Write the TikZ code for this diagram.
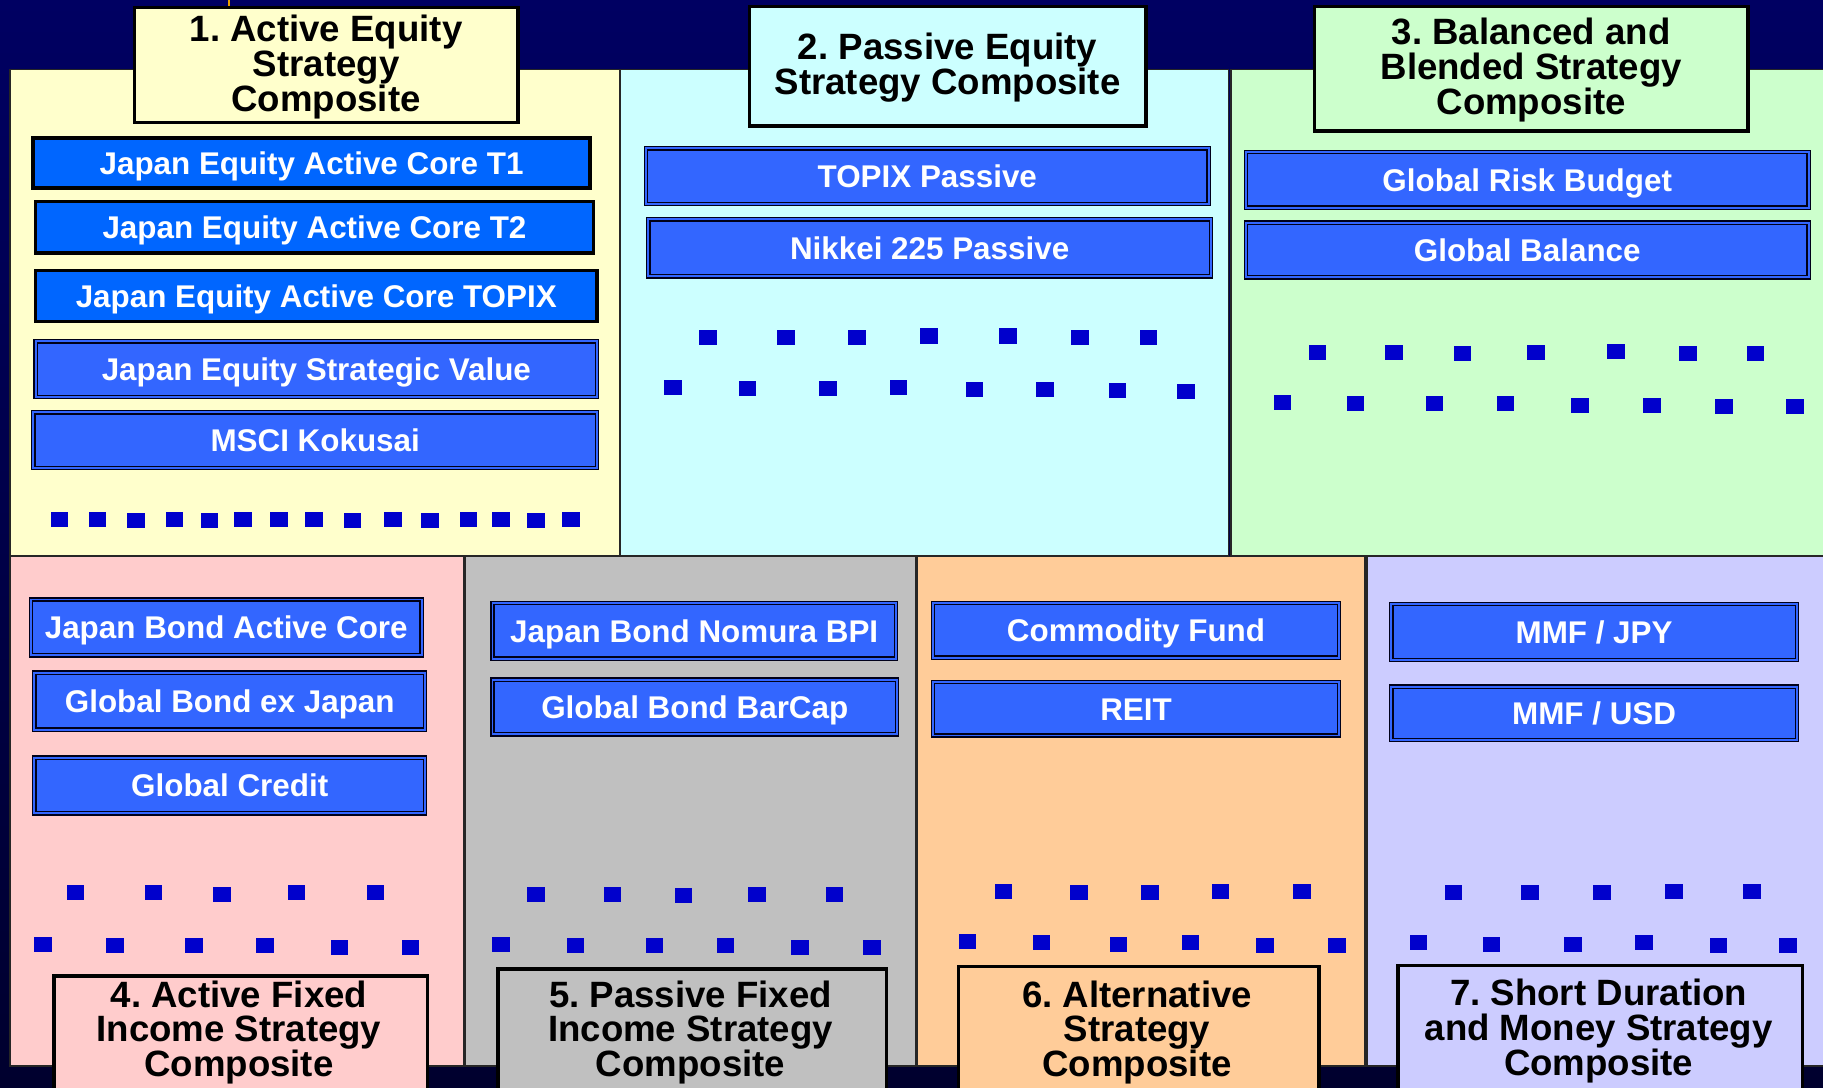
\documentclass[tikz,border=0pt]{standalone}
\usepackage{fontspec}
\setmainfont{Liberation Sans}
\begin{document}
\frenchspacing
\begin{tikzpicture}[x=1pt,y=-1pt,
  panel/.style={draw=black!85, line width=1.5pt, minimum width=#1, anchor=north west, inner sep=0pt},
  titlebox/.style={draw=black, line width=3pt, anchor=north west, inner sep=0pt},
  titletext/.style={align=center, text=black, font=\fontsize{31.5}{30}\selectfont\bfseries\frenchspacing},
  fundA/.style={draw=black, line width=3pt, fill=fundbright, anchor=north west, inner sep=0pt,
    text=white, text height=19.5pt, text depth=0pt, font=\fontsize{27}{30}\selectfont\bfseries},
  fundB/.style={draw=black!90!blue, line width=1.2pt, double=fundblue, double distance=1.6pt,
    fill=fundblue, anchor=north west, inner sep=0pt,
    text=white, text height=19.5pt, text depth=0pt, font=\fontsize{27}{30}\selectfont\bfseries},
  dot/.style={fill=dotblue}
]
\definecolor{navytop}{HTML}{000062}
\definecolor{navybot}{HTML}{00002E}
\definecolor{fundbright}{HTML}{0066FF}
\definecolor{fundblue}{HTML}{3366FF}
\definecolor{dotblue}{HTML}{0000CC}
\definecolor{cYellow}{HTML}{FFFFCC}
\definecolor{cCyan}{HTML}{CCFFFF}
\definecolor{cGreen}{HTML}{CCFFCC}
\definecolor{cPink}{HTML}{FFCCCC}
\definecolor{cGray}{HTML}{C0C0C0}
\definecolor{cOrange}{HTML}{FFCC99}
\definecolor{cLilac}{HTML}{CCCCFF}

\useasboundingbox (0,0) rectangle (1568,935);
% backdrop
\shade[top color=navytop, bottom color=navybot] (0,0) rectangle (1568,935);
\draw[draw={rgb,255:red,232;green,160;blue,0}, line width=2pt] (197,0) -- (197,5);

% composite panels, top row
\node[panel=524pt, minimum height=418pt, fill=cYellow] (p1) at (8,59) {};
\node[panel=523pt, minimum height=418pt, fill=cCyan]   (p2) at (533,59) {};
\node[panel=520pt, minimum height=418pt, fill=cGreen]  (p3) at (1058,59) {};
% composite panels, bottom row
\node[panel=390pt, minimum height=438pt, fill=cPink]   (p4) at (8,478) {};
\node[panel=388pt, minimum height=438pt, fill=cGray]   (p5) at (399,478) {};
\node[panel=385pt, minimum height=438pt, fill=cOrange] (p6) at (788,478) {};
\node[panel=400pt, minimum height=438pt, fill=cLilac]  (p7) at (1175,478) {};

% composite titles, top row
\node[titlebox, fill=cYellow, minimum width=330pt, minimum height=99pt] (t1) at (114,5) {};
\node[titletext] (t1t) at ([yshift=-1.5pt]t1.center) {1. Active Equity\\Strategy\\Composite};
\node[titlebox, fill=cCyan, minimum width=341pt, minimum height=103pt] (t2) at (643,4) {};
\node[titletext] (t2t) at ([yshift=-1pt]t2.center) {2. Passive Equity\\Strategy Composite};
\node[titlebox, fill=cGreen, minimum width=373pt, minimum height=107pt] (t3) at (1129,4) {};
\node[titletext] (t3t) at ([yshift=-1.5pt]t3.center) {3. Balanced and\\Blended Strategy\\Composite};

% composite titles, bottom row (boxes run off the lower edge)
\node[titlebox, fill=cPink, minimum width=321pt, minimum height=130pt] (t4) at (45,838) {};
\node[titletext] (t4t) at (205.5,888) {4. Active Fixed\\Income Strategy\\Composite};
\node[titlebox, fill=cGray, minimum width=334pt, minimum height=130pt] (t5) at (427,832) {};
\node[titletext] (t5t) at (594,888) {5. Passive Fixed\\Income Strategy\\Composite};
\node[titlebox, fill=cOrange, minimum width=310pt, minimum height=130pt] (t6) at (823,830) {};
\node[titletext] (t6t) at (978,888) {6. Alternative\\Strategy\\Composite};
\node[titlebox, fill=cLilac, minimum width=348pt, minimum height=130pt] (t7) at (1201,829) {};
\node[titletext] (t7t) at (1375,887) {7. Short Duration\\and Money Strategy\\Composite};

% funds, active equity
\node[fundA, minimum width=479pt, minimum height=43pt] (f11) at (27,117) {Japan Equity Active Core T1};
\node[fundA, minimum width=480pt, minimum height=44pt] (f12) at (29,172) {Japan Equity Active Core T2};
\node[fundA, minimum width=483pt, minimum height=44pt] (f13) at (29,231) {Japan Equity Active Core TOPIX};
\node[fundB, minimum width=483pt, minimum height=48pt] (f14) at (30,293) {Japan Equity Strategic Value};
\node[fundB, minimum width=485pt, minimum height=48pt] (f15) at (28,354) {MSCI Kokusai};
% funds, passive equity
\node[fundB, minimum width=484pt, minimum height=48pt] (f21) at (555,127) {TOPIX Passive};
\node[fundB, minimum width=484pt, minimum height=49pt] (f22) at (557,188) {Nikkei 225 Passive};
% funds, balanced
\node[fundB, minimum width=484pt, minimum height=48pt] (f31) at (1071,130) {Global Risk Budget};
\node[fundB, minimum width=484pt, minimum height=47pt] (f32) at (1071,191) {Global Balance};
% funds, active fixed income
\node[fundB, minimum width=336pt, minimum height=48pt] (f41) at (26,515) {Japan Bond Active Core};
\node[fundB, minimum width=336pt, minimum height=49pt] (f42) at (29,578) {Global Bond ex Japan};
\node[fundB, minimum width=336pt, minimum height=48pt] (f43) at (29,651) {Global Credit};
% funds, passive fixed income
\node[fundB, minimum width=347pt, minimum height=48pt] (f51) at (423,518) {Japan Bond Nomura BPI};
\node[fundB, minimum width=348pt, minimum height=47pt] (f52) at (423,584) {Global Bond BarCap};
% funds, alternative
\node[fundB, minimum width=349pt, minimum height=47pt] (f61) at (802,518) {Commodity Fund};
\node[fundB, minimum width=349pt, minimum height=46pt] (f62) at (802,586) {REIT};
% funds, short duration and money
\node[fundB, minimum width=349pt, minimum height=48pt] (f71) at (1196,519) {MMF / JPY};
\node[fundB, minimum width=349pt, minimum height=46pt] (f72) at (1196,590) {MMF / USD};

% "more funds" markers
\foreach \x/\y in {51/447,84/447,117/448,150/447,180/448,209/447,240/447,270/447,303/448,338/447,370/448,403/447,431/447,461/448,491/447,
  609/290,676/290,737/290,799/289,867/289,929/290,988/290,
  579/333,643/334,712/334,773/333,838/335,899/335,961/336,1020/337,
  1133/303,1199/303,1258/304,1321/303,1390/302,1452/304,1510/304,
  1103/346,1166/347,1234/347,1295/347,1359/349,1421/349,1483/350,1544/350,
  65/768,132/768,191/769,255/768,323/768,
  37/812,99/813,167/813,228/813,292/815,353/815,
  461/769,527/769,588/770,651/769,718/769,
  431/812,495/813,563/813,624/813,688/815,750/815,
  863/767,928/768,989/768,1050/767,1120/767,
  832/810,896/811,962/812,1024/811,1088/813,1150/813,
  1250/768,1316/768,1378/768,1440/767,1507/767,
  1220/811,1283/812,1353/812,1414/811,1478/813,1538/813}
  \fill[dot] (\x-7.5,\y-6.5) rectangle ++(15,13);
\end{tikzpicture}
\end{document}
